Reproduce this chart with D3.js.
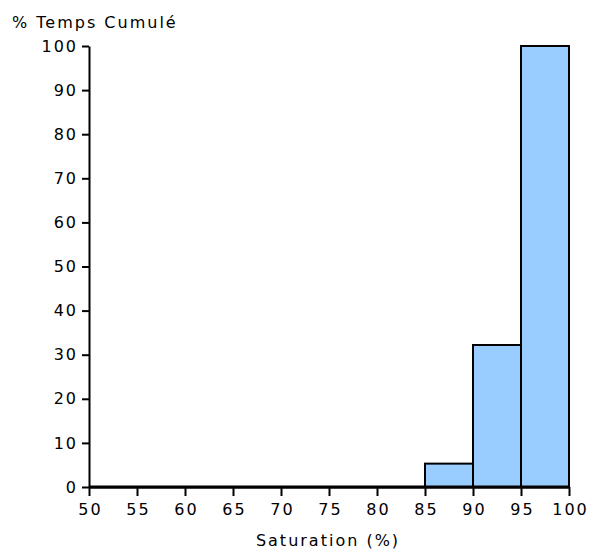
<!DOCTYPE html>
<html>
<head>
<meta charset="utf-8">
<script src="https://cdn.jsdelivr.net/npm/d3@7"></script>
<style>
  body { margin: 0; background: #fff; }
  text { font-family: "DejaVu Sans", Verdana, sans-serif; font-size: 16px; letter-spacing: 2px; fill: #000; }
</style>
</head>
<body>
<svg width="593" height="554"></svg>
<script>
// bornes des classes de saturation (%)
const binStarts = [50, 55, 60, 65, 70, 75, 80, 85, 90, 95];
const binWidth = 5;
// % de temps cumulé par classe
const cumulValues = [0, 0, 0, 0, 0, 0, 0, 5.3, 32.2, 100];
const xTicks = [50, 55, 60, 65, 70, 75, 80, 85, 90, 95, 100];
const yTicks = [0, 10, 20, 30, 40, 50, 60, 70, 80, 90, 100];

const svg = d3.select("svg");

const x = d3.scaleLinear().domain([50, 100]).range([89, 569]);
const y = d3.scaleLinear().domain([0, 100]).range([487, 46]);

const data = binStarts.map((s, i) => ({ x0: s, x1: s + binWidth, v: cumulValues[i] }));

// barres
svg.selectAll(".bar")
  .data(data)
  .enter()
  .append("rect")
  .attr("class", "bar")
  .attr("x", d => x(d.x0))
  .attr("y", d => y(d.v))
  .attr("width", d => x(d.x1) - x(d.x0))
  .attr("height", d => y(0) - y(d.v))
  .attr("fill", "#99ccff")
  .attr("stroke", "#000")
  .attr("stroke-width", 2);

// axe Y
const yAxis = svg.append("g")
  .attr("transform", `translate(${x(50)},0)`)
  .call(d3.axisLeft(y).tickValues(yTicks).tickSize(7).tickPadding(4).tickSizeOuter(0));

// axe X
const xAxis = svg.append("g")
  .attr("transform", `translate(0,${y(0)})`)
  .call(d3.axisBottom(x).tickValues(xTicks).tickSize(9).tickPadding(8).tickSizeOuter(0));

[yAxis, xAxis].forEach(a => {
  a.select(".domain").attr("stroke", "#000").attr("stroke-width", 2);
  a.selectAll(".tick line").attr("stroke", "#000").attr("stroke-width", 2);
  a.selectAll(".tick text")
    .style("font-family", "\"DejaVu Sans\", Verdana, sans-serif")
    .style("font-size", "16px")
    .style("letter-spacing", "2px")
    .attr("fill", "#000");
});
// compense l'espacement ajouté après le dernier caractère
xAxis.selectAll(".tick text").attr("dx", 1);

// baseline plus épaisse
svg.append("line")
  .attr("x1", x(50)).attr("x2", x(100))
  .attr("y1", y(0)).attr("y2", y(0))
  .attr("stroke", "#000")
  .attr("stroke-width", 3);

// titres
svg.append("text")
  .attr("x", 12)
  .attr("y", 28)
  .text("% Temps Cumulé");

svg.append("text")
  .attr("x", 328)
  .attr("y", 546)
  .attr("text-anchor", "middle")
  .text("Saturation (%)");
</script>
</body>
</html>
